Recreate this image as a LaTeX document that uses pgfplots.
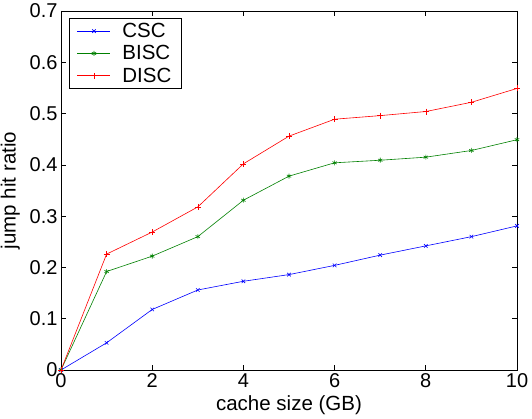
\documentclass[border=0pt]{standalone}
\usepackage{fontspec}
\setmainfont{Liberation Sans}
\usepackage{pgfplots}
\pgfplotsset{compat=1.18}
\definecolor{mgreen}{rgb}{0,0.5,0}
\begin{document}
\begin{tikzpicture}
\begin{axis}[
  scale only axis,
  width=456pt, height=359pt,
  xmin=0, xmax=10, ymin=0, ymax=0.7,
  xtick={0,2,4,6,8,10},
  ytick={0,0.1,0.2,0.3,0.4,0.5,0.6,0.7},
  yticklabel style={/pgf/number format/fixed, /pgf/number format/precision=1},
  /pgf/number format/assume math mode=true,
  tick align=inside,
  major tick length=5pt,
  axis line style={line width=0.9pt},
  every tick/.style={black, line width=0.7pt},
  tick label style={font=\fontsize{20}{22}\selectfont},
  label style={font=\fontsize{20.5}{22}\selectfont},
  xlabel={cache size (GB)},
  ylabel={jump hit ratio},
  xlabel style={yshift=-1pt},
  ylabel style={yshift=3pt},
  legend style={at={(0.017,0.981)}, anchor=north west, draw=black, line width=0.8pt,
    font=\fontsize{20.5}{22}\selectfont, row sep=2.5pt, inner xsep=8pt, inner ysep=3pt},
  legend cell align=left,
  legend image code/.code={
    \draw[mark repeat=2,mark phase=2] plot coordinates {(0cm,0cm) (0.58cm,0cm) (1.16cm,0cm)};
    \path (1.5cm,0cm);
  },
]
\addplot[blue, line width=0.6pt, mark=x, mark size=2.5pt] coordinates {
(0,0) (1,0.053) (2,0.118) (3,0.156) (4,0.173) (5,0.186) (6,0.204) (7,0.224) (8,0.242) (9,0.260) (10,0.281)};
\addlegendentry{CSC}
\addplot[mgreen, line width=0.6pt, mark=asterisk, mark size=2.5pt] coordinates {
(0,0) (1,0.192) (2,0.222) (3,0.260) (4,0.331) (5,0.378) (6,0.404) (7,0.409) (8,0.415) (9,0.428) (10,0.449)};
\addlegendentry{BISC}
\addplot[red, line width=0.6pt, mark=+, mark size=3pt] coordinates {
(0,0) (1,0.226) (2,0.269) (3,0.318) (4,0.402) (5,0.456) (6,0.489) (7,0.496) (8,0.504) (9,0.522) (10,0.549)};
\addlegendentry{DISC}
\end{axis}
\pgfresetboundingbox
\path[use as bounding box] ([xshift=-61pt,yshift=-49pt]current axis.south west) rectangle ([xshift=15pt,yshift=11pt]current axis.north east);
\end{tikzpicture}
\end{document}
